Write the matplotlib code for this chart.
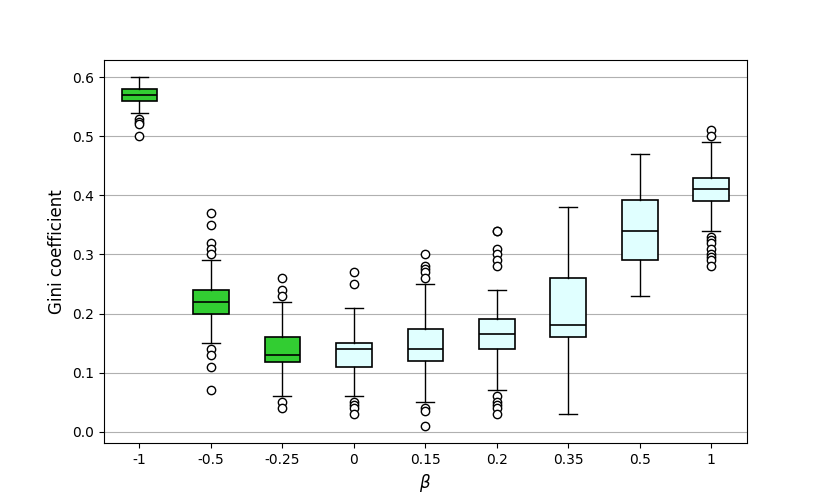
import matplotlib
matplotlib.use("Agg")
import matplotlib.pyplot as plt

labels = ["-1", "-0.5", "-0.25", "0", "0.15", "0.2", "0.35", "0.5", "1"]
medians = [0.57, 0.22, 0.13, 0.14, 0.14, 0.165, 0.18, 0.34, 0.41]
q1 = [0.56, 0.20, 0.118, 0.11, 0.12, 0.14, 0.16, 0.29, 0.39]
q3 = [0.58, 0.24, 0.16, 0.15, 0.173, 0.19, 0.26, 0.392, 0.43]
whislo = [0.54, 0.15, 0.06, 0.06, 0.05, 0.07, 0.03, 0.23, 0.34]
whishi = [0.60, 0.29, 0.22, 0.21, 0.25, 0.24, 0.38, 0.47, 0.49]
fliers = [
    [0.53, 0.525, 0.52, 0.50],
    [0.37, 0.35, 0.32, 0.31, 0.30, 0.14, 0.13, 0.11, 0.07],
    [0.26, 0.24, 0.23, 0.05, 0.04],
    [0.27, 0.25, 0.05, 0.045, 0.04, 0.03],
    [0.30, 0.28, 0.275, 0.27, 0.26, 0.04, 0.035, 0.01],
    [0.34, 0.34, 0.31, 0.30, 0.29, 0.28, 0.06, 0.05, 0.045, 0.04, 0.03],
    [],
    [],
    [0.51, 0.50, 0.33, 0.325, 0.32, 0.31, 0.30, 0.295, 0.29, 0.28],
]
colors = ["#32CD32"] * 3 + ["#E0FFFF"] * 6

stats = []
for i in range(len(labels)):
    stats.append(dict(label=labels[i], med=medians[i], q1=q1[i], q3=q3[i],
                      whislo=whislo[i], whishi=whishi[i], fliers=fliers[i]))

fig, ax = plt.subplots(figsize=(8.3, 4.98), dpi=100)
bp = ax.bxp(stats, widths=0.5, patch_artist=True,
            medianprops=dict(color="black", linewidth=1.2),
            boxprops=dict(edgecolor="black", linewidth=1.2),
            whiskerprops=dict(color="black", linewidth=1.0),
            capprops=dict(color="black", linewidth=1.0),
            flierprops=dict(marker="o", markerfacecolor="white",
                            markeredgecolor="black", markersize=6))
for patch, c in zip(bp["boxes"], colors):
    patch.set_facecolor(c)

ax.set_ylim(-0.0195, 0.6295)
ax.yaxis.grid(True, color="#b0b0b0", linewidth=0.8)
ax.set_axisbelow(True)
ax.set_ylabel("Gini coefficient", fontsize=12)
ax.set_xlabel(r"$\beta$", fontsize=12)
fig.savefig("out.png", dpi=100)
